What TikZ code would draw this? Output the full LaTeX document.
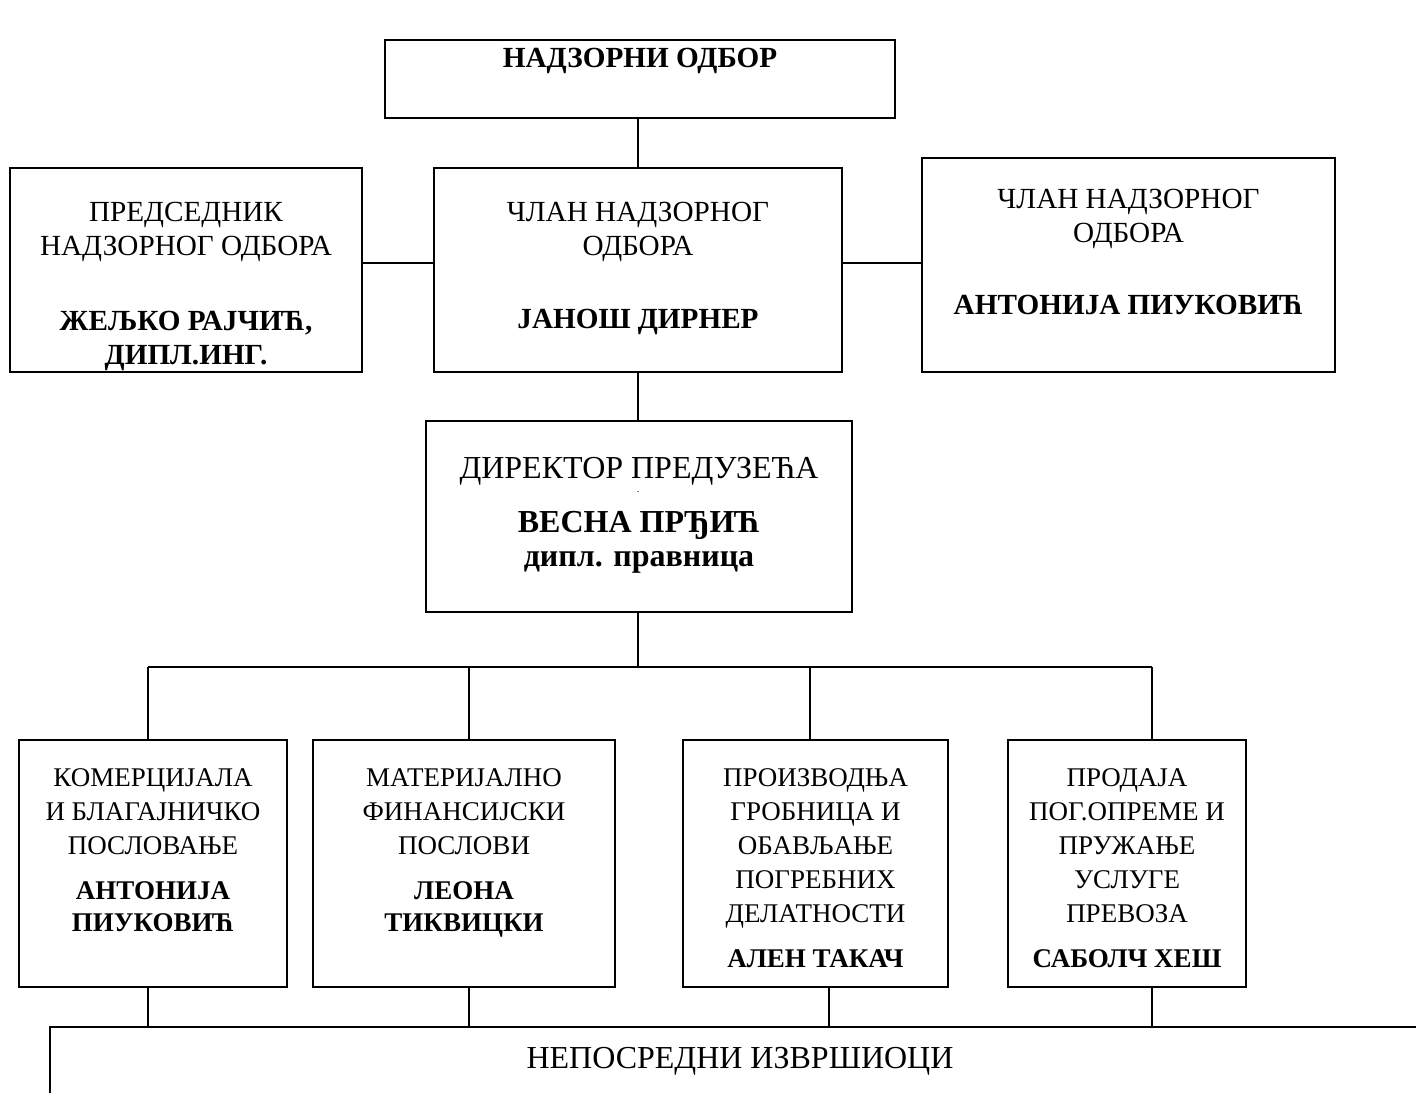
\documentclass[tikz,border=0pt]{standalone}
\usepackage{fontspec}
\setmainfont{Liberation Serif}
\usetikzlibrary{positioning}

\begin{document}
\begin{tikzpicture}[x=0.5pt, y=-0.5pt, font=\fontsize{13.5}{17}\selectfont,
  box/.style={draw=black, line width=0.9pt, inner sep=0pt},
  txt/.style={align=center, inner sep=0pt, anchor=north},
  bigtxt/.style={txt, font=\fontsize{14.6}{17}\selectfont},
  conn/.style={draw=black, line width=0.6pt}]
  \useasboundingbox (0,0) rectangle (1416,1093);
  % supervisory board
  \node[box, minimum width=255pt, minimum height=39pt] (odbor) at (640,79) {};
  \node[bigtxt, below=4.5pt of odbor.north] {\bfseries НАДЗОРНИ ОДБОР};
  \node[box, minimum width=176pt, minimum height=102pt] (pred) at (186,270) {};
  \node[bigtxt, below=17.5pt of pred.north] {ПРЕДСЕДНИК\\НАДЗОРНОГ ОДБОРА\\[20.5pt]\bfseries ЖЕЉКО РАЈЧИЋ,\\\bfseries ДИПЛ.ИНГ.};
  \node[box, minimum width=204pt, minimum height=102pt] (clan1) at (638,270) {};
  \node[bigtxt, below=17.5pt of clan1.north] {ЧЛАН НАДЗОРНОГ\\ОДБОРА\\[19.5pt]\bfseries ЈАНОШ ДИРНЕР};
  \node[box, minimum width=206.5pt, minimum height=107pt] (clan2) at (1128.5,265) {};
  \node[bigtxt, below=16pt of clan2.north] {ЧЛАН НАДЗОРНОГ\\ОДБОРА\\[19pt]\bfseries АНТОНИЈА ПИУКОВИЋ};
  % director
  \node[box, minimum width=213pt, minimum height=95.5pt] (direktor) at (639,516.5) {};
  \node[txt, font=\fontsize{16}{17}\selectfont, below=18.5pt of direktor.north] {ДИРЕКТОР ПРЕДУЗЕЋА\\[10pt]\bfseries ВЕСНА ПРЂИЋ\\\bfseries дипл. правница};
  \node[inner sep=0pt, font=\fontsize{5}{6}\selectfont] (tacka) at (638,492) {.};
  % sectors
  \node[box, minimum width=134pt, minimum height=123.5pt] (kom) at (153,863.5) {};
  \node[txt, below=14.5pt of kom.north] {КОМЕРЦИЈАЛА\\И БЛАГАЈНИЧКО\\ПОСЛОВАЊЕ\\[5.5pt]\bfseries АНТОНИЈА\\[-1pt]\bfseries ПИУКОВИЋ};
  \node[box, minimum width=151pt, minimum height=123.5pt] (mat) at (464,863.5) {};
  \node[txt, below=14.5pt of mat.north] {МАТЕРИЈАЛНО\\ФИНАНСИЈСКИ\\ПОСЛОВИ\\[5.5pt]\bfseries ЛЕОНА\\[-1pt]\bfseries ТИКВИЦКИ};
  \node[box, minimum width=132.5pt, minimum height=123.5pt] (proiz) at (815.5,863.5) {};
  \node[txt, below=14.5pt of proiz.north] {ПРОИЗВОДЊА\\ГРОБНИЦА И\\ОБАВЉАЊЕ\\ПОГРЕБНИХ\\ДЕЛАТНОСТИ\\[5.5pt]\bfseries АЛЕН ТАКАЧ};
  \node[box, minimum width=119pt, minimum height=123.5pt] (prod) at (1127,863.5) {};
  \node[txt, below=14.5pt of prod.north] {ПРОДАЈА\\ПОГ.ОПРЕМЕ И\\ПРУЖАЊЕ\\УСЛУГЕ\\ПРЕВОЗА\\[5.5pt]\bfseries САБОЛЧ ХЕШ};
  % executors
  \node[inner sep=0pt, minimum width=683pt, minimum height=33pt] (izvr) at (733,1060) {};
  \node[inner sep=0pt, font=\fontsize{16}{17}\selectfont] at (740,1061) {НЕПОСРЕДНИ ИЗВРШИОЦИ};
  \draw[box] (izvr.south west) -- (izvr.north west) -- (izvr.north east);
  % bus points
  \coordinate (d1) at (148,667);
  \coordinate (d2) at (469,667);
  \coordinate (d3) at (810,667);
  \coordinate (d4) at (1152,667);
  \coordinate (e1) at (148,1027);
  \coordinate (e2) at (469,1027);
  \coordinate (e3) at (829,1027);
  \coordinate (e4) at (1152,1027);
  % connectors
  \draw[conn] (odbor.south -| clan1.north) -- (clan1.north);
  \draw[conn] ([yshift=3.5pt]pred.east) -- ([yshift=3.5pt]clan1.west);
  \draw[conn] ([yshift=3.5pt]clan1.east) -- ([yshift=3.5pt]clan1.east -| clan2.west);
  \draw[conn] (clan1.south) -- (clan1.south |- direktor.north);
  \draw[conn] (direktor.south -| clan1.south) -- (clan1.south |- d1);
  \draw[conn] (d1) -- (d4);
  \draw[conn] (d1) -- (d1 |- kom.north);
  \draw[conn] (d2) -- (d2 |- mat.north);
  \draw[conn] (d3) -- (d3 |- proiz.north);
  \draw[conn] (d4) -- (d4 |- prod.north);
  \draw[conn] (e1 |- kom.south) -- (e1);
  \draw[conn] (e2 |- mat.south) -- (e2);
  \draw[conn] (e3 |- proiz.south) -- (e3);
  \draw[conn] (e4 |- prod.south) -- (e4);
\end{tikzpicture}
\end{document}
